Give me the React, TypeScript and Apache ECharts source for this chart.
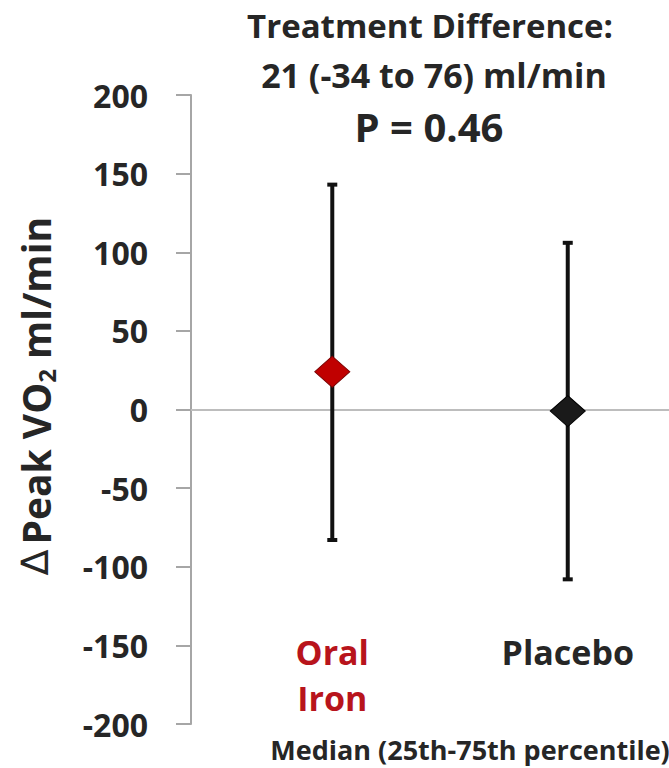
import React, { useEffect, useRef } from "react";
import * as echarts from "echarts";

// ---- data ----
const groups = ["Oral\nIron", "Placebo"];
const groupX = [1, 2];
const medians = [24, -1];
const lowerQ = [-83, -108];
const upperQ = [143, 106];
const yTicks = { min: -200, max: 200, interval: 50 };
const titleLines = ["Treatment Difference:", "21 (-34 to 76) ml/min", "P = 0.46"];
const footnote = "Median (25th-75th percentile)";
const groupColors = ["#c00000", "#1a1a1a"];
const labelColors = ["#b8141c", "#262626"];

const FONT = "'Open Sans', 'DejaVu Sans', sans-serif";

export default function App() {
  const ref = useRef<HTMLDivElement>(null);
  useEffect(() => {
    if (!ref.current) return;
    const chart = echarts.init(ref.current, null, { renderer: "svg" });
    const barData = groupX.map((x, i) => [x, lowerQ[i], upperQ[i]]);
    const pointData = groupX.map((x, i) => ({
      value: [x, medians[i]],
      itemStyle: {
        color: groupColors[i],
        borderColor: i === 0 ? "#7a0000" : "#000",
        borderWidth: 1,
        opacity: 1,
      },
    }));
    const labelData = groupX.map((x, i) => [x, -154, i]);

    chart.setOption({
      animation: false,
      backgroundColor: "#ffffff",
      grid: { left: 191, right: 0, top: 95, bottom: 44 },
      xAxis: {
        type: "value",
        min: 0.4,
        max: 2.43,
        axisLine: { show: true, onZero: true, lineStyle: { color: "#bdbdbd", width: 2 } },
        axisTick: { show: false },
        axisLabel: { show: false },
        splitLine: { show: false },
      },
      yAxis: {
        type: "value",
        min: yTicks.min,
        max: yTicks.max,
        interval: yTicks.interval,
        axisLine: { show: true, onZero: false, lineStyle: { color: "#a6a6a6", width: 2 } },
        axisTick: { show: true, inside: false, length: 15, lineStyle: { color: "#a6a6a6", width: 2 } },
        axisLabel: {
          margin: 43,
          fontFamily: FONT,
          fontWeight: "bold",
          fontSize: 32,
          color: "#262626",
        },
        splitLine: { show: false },
      },
      graphic: [
        {
          type: "text",
          x: 430,
          y: 25,
          style: {
            text: titleLines[0],
            fontFamily: FONT,
            fontWeight: "bold",
            fontSize: 33,
            fill: "#262626",
            align: "center",
            verticalAlign: "middle",
          },
        },
        {
          type: "text",
          x: 434,
          y: 75,
          style: {
            text: titleLines[1],
            fontFamily: FONT,
            fontWeight: "bold",
            fontSize: 34,
            fill: "#262626",
            align: "center",
            verticalAlign: "middle",
          },
        },
        {
          type: "text",
          x: 429,
          y: 126,
          style: {
            text: titleLines[2],
            fontFamily: FONT,
            fontWeight: "bold",
            fontSize: 40,
            fill: "#262626",
            align: "center",
            verticalAlign: "middle",
          },
        },
        {
          type: "text",
          x: 35,
          y: 396,
          rotation: Math.PI / 2,
          style: {
            text: "{d|∆}{g| }{a|Peak VO}{s|2}{a| ml/min}",
            align: "center",
            verticalAlign: "middle",
            rich: {
              d: { fontFamily: "'DejaVu Sans', sans-serif", fontSize: 38, fill: "#262626", lineHeight: 46 },
              g: { fontFamily: FONT, fontSize: 20, lineHeight: 46 },
              a: { fontFamily: FONT, fontWeight: "bold", fontSize: 39, fill: "#262626", lineHeight: 46 },
              s: { fontFamily: FONT, fontWeight: "bold", fontSize: 24, fill: "#262626", lineHeight: 22, verticalAlign: "bottom" },
            },
          },
        },
        {
          type: "text",
          x: 470,
          y: 749,
          style: {
            text: footnote,
            fontFamily: FONT,
            fontWeight: "bold",
            fontSize: 27,
            fill: "#262626",
            align: "center",
            verticalAlign: "middle",
          },
        },
      ],
      series: [
        {
          type: "custom",
          data: barData,
          z: 2,
          renderItem: (params: any, api: any) => {
            const x = api.value(0);
            const lo = api.coord([x, api.value(1)]);
            const hi = api.coord([x, api.value(2)]);
            const cap = 5;
            const style = { stroke: "#111111", lineWidth: 4 };
            return {
              type: "group",
              children: [
                { type: "line", shape: { x1: lo[0], y1: lo[1], x2: hi[0], y2: hi[1] }, style },
                { type: "line", shape: { x1: lo[0] - cap, y1: lo[1], x2: lo[0] + cap, y2: lo[1] }, style },
                { type: "line", shape: { x1: hi[0] - cap, y1: hi[1], x2: hi[0] + cap, y2: hi[1] }, style },
              ],
            };
          },
        },
        {
          type: "scatter",
          data: pointData,
          symbol: "diamond",
          symbolSize: [35, 31],
          z: 3,
        },
        {
          type: "custom",
          data: labelData,
          renderItem: (params: any, api: any) => {
            const i = api.value(2);
            const p = api.coord([api.value(0), api.value(1)]);
            return {
              type: "text",
              x: p[0],
              y: p[1] - 23,
              style: {
                text: groups[i],
                fontFamily: FONT,
                fontWeight: "bold",
                fontSize: 34,
                lineHeight: 46,
                fill: labelColors[i],
                align: "center",
                verticalAlign: "top",
              },
            };
          },
        },
      ],
    });
    return () => chart.dispose();
  }, []);
  return (
    <div
      ref={ref}
      style={{ position: "absolute", left: 0, top: 0, width: 669, height: 768 }}
    />
  );
}
